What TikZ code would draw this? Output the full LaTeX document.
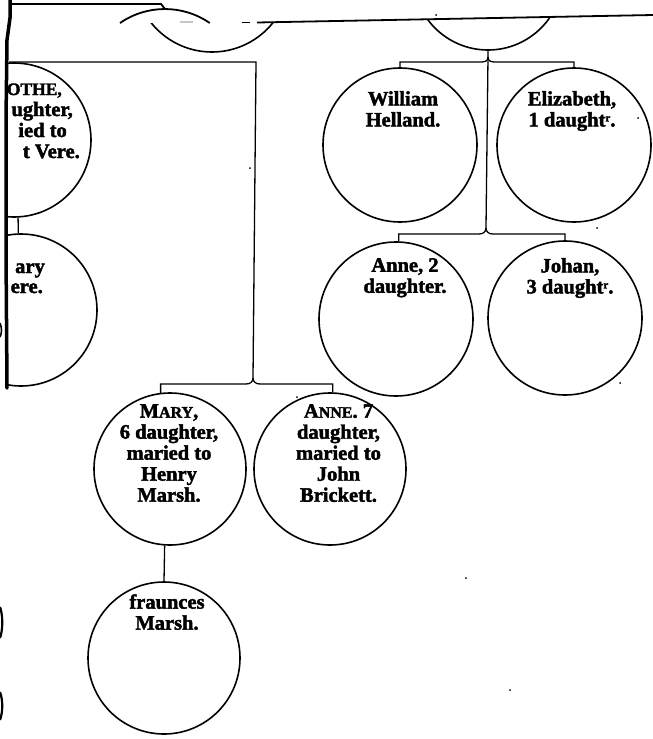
\documentclass[tikz,border=0pt]{standalone}
\usepackage{fontspec}
\newfontfamily\heavyserif{Liberation Serif}[BoldFeatures={FakeBold=2}]
\begin{document}
\begin{tikzpicture}[x=1pt,y=-1pt,
  person/.style={circle, draw, line width=1.6pt, minimum size=#1, inner sep=0pt},
  person/.default=154pt,
  link/.style={line width=1.3pt},
  edgerule/.style={line width=1.8pt},
  ptext/.style={font=\heavyserif\bfseries\fontsize{20.5}{21}\selectfont, align=center, inner sep=0pt, anchor=north},
  frag/.style={font=\heavyserif\bfseries\fontsize{20.5}{21}\selectfont, inner sep=0pt, anchor=base east},
  speck/.style={fill=black}]
\newcommand{\smc}[1]{{\fontsize{16}{21}\selectfont #1}}
\newcommand{\supr}[1]{\raisebox{5pt}{\fontsize{11}{11}\selectfont #1}}
\fill[white] (0,0) rectangle (653,739);
\useasboundingbox (0,0) rectangle (653,739);

% ---- parents, cut by the edge of the sheet above ----
\begin{scope}
  \clip (100,23) rectangle (300,140);
  \node[person=156pt] (parentL) at (212,-26) {};
\end{scope}
\begin{scope}
  \clip (257,22.5) -- (653,15) -- (653,140) -- (257,140) -- cycle;
  \node[person=150pt] (parentR) at (488,-25) {};
\end{scope}

% ---- top rules ----
\coordinate (tl0) at (9,4);
\coordinate (tl1) at (161,4);
\coordinate (tl2) at (165,9);
\draw[edgerule] (tl0) -- (tl1) -- (tl2);
\draw[edgerule] (120,23) arc[start angle=-124.6, end angle=-55.4, radius=79];
\draw[edgerule, gray!45] (180,22) -- (193,22);
\draw[edgerule] (242,22.5) -- (250,22.5);
\coordinate (tr0) at (257,22.5);
\coordinate (tr1) at (653,15);
\draw[edgerule] (tr0) -- (tr1);

% ---- children, right family ----
\node[person] (william)   at (400,145) {};
\node[person] (elizabeth) at (574,145) {};
\node[person] (anne2)     at (396,319) {};
\node[person] (johan)     at (565,318) {};

\node[ptext] (t-william)   at (403,91) {William\\Helland.};
\node[ptext] (t-elizabeth) at (572,91) {Elizabeth,\\1 daught\supr{r}.};
\node[ptext] (t-anne2)     at (405,258) {Anne, 2\\daughter.};
\node[ptext] (t-johan)     at (570,258) {Johan,\\3 daught\supr{r}.};

\coordinate (rf1) at (488,57);
\coordinate (rbar1) at (488,62);
\coordinate (rf2) at (486,228);
\coordinate (rbar2) at (486,234);

\draw[link] (parentR.south) -- (rf1) -- (rf2);
\draw[link] (rf1) .. controls +(0,4) and +(4,0) .. ++(-7,5)
  -- (william.north |- rbar1) -- (william.north);
\draw[link] (rf1) .. controls +(0,4) and +(-4,0) .. ++(7,5)
  -- (elizabeth.north |- rbar1) -- (elizabeth.north);
\draw[link] (rf2) .. controls +(0,4) and +(4,0) .. ++(-7,6)
  -- (anne2.88 |- rbar2) -- (anne2.88);
\draw[link] (rf2) .. controls +(0,4) and +(-4,0) .. ++(7,6)
  -- (johan.north |- rbar2) -- (johan.north);

% ---- children, left family ----
\begin{scope}
  \clip (8,0) rectangle (653,739);
  \node[person] (dorothe)  at (14,140) {};
  \node[person=152pt] (maryvere) at (21,310) {};
  \node[frag] (t-dor1) at (62,95)  {{\fontsize{17.5}{21}\selectfont OTHE,}};
  \node[frag] (t-dor2) at (73,116) {ughter,};
  \node[frag] (t-dor3) at (67,137) {ied to};
  \node[frag] (t-dor4) at (80,158) {t Vere.};
  \node[frag] (t-mv1)  at (45,273) {ary};
  \node[frag] (t-mv2)  at (43,293) {ere.};
\end{scope}

\node[person=152pt] (mary)    at (170,469) {};
\node[person=152pt] (anne7)   at (330,469) {};
\node[person=152pt] (frances) at (164,658) {};

\node[ptext] (t-mary)    at (169,404) {M\smc{ARY},\\6 daughter,\\maried to\\Henry\\Marsh.};
\node[ptext] (t-anne7)   at (338.5,404) {A\smc{NNE}. 7\\daughter,\\maried to\\John\\Brickett.};
\node[ptext] (t-frances) at (167,594) {fraunces\\Marsh.};

\coordinate (lstart) at (9,62);
\coordinate (lcorner) at (256,62);
\coordinate (lf) at (253,378);
\coordinate (lbar) at (253,384);

\draw[link] (lstart) -- (lcorner) -- (lf);
\draw[link] (lf) .. controls +(0,4) and +(4,0) .. ++(-7,6)
  -- (mary.97 |- lbar) -- (mary.97);
\draw[link] (lf) .. controls +(0,4) and +(-4,0) .. ++(7,6)
  -- (anne7.88 |- lbar) -- (anne7.88);
\draw[link] (dorothe.-87) -- (maryvere.92);
\draw[link] (mary.-94) -- (frances.north);

% ---- binding edge and marks of the sheet ----
\draw[line width=3.5pt, line cap=round, line join=round]
  (10,0) -- (10,18) -- (7,40) -- (6,120) -- (6,250) -- (7,388);
\draw[line width=2.2pt] (0,607) .. controls (3,615) and (3,630) .. (0,638);
\draw[line width=2.2pt] (0,692) .. controls (3,700) and (3,712) .. (0,720);
\draw[line width=1.6pt] (0,323) .. controls (2,328) and (2,333) .. (0,337);

\foreach \p in {(436,15),(638,118),(597,228),(620,383),(250,168),(297,397),(466,578),(510,690)}
  \fill[speck] \p circle (1);
\end{tikzpicture}
\end{document}
